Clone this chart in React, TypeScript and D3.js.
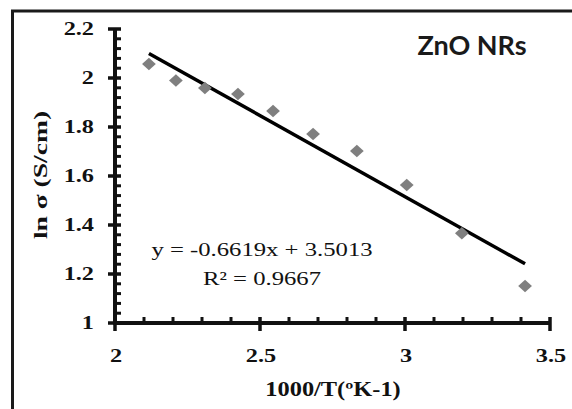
import React, { useEffect, useRef } from 'react';
import * as d3 from 'd3';

// 1000/T values and measured ln(sigma)
const invTemp: number[] = [2.117, 2.21, 2.31, 2.424, 2.545, 2.683, 2.834, 3.006, 3.196, 3.414];
const lnSigma: number[] = [2.057, 1.99, 1.959, 1.935, 1.865, 1.771, 1.702, 1.563, 1.366, 1.151];

// linear trendline from the chart
const fitSlope = -0.6619;
const fitIntercept = 3.5013;
const fitLabels: string[] = ['y = -0.6619x + 3.5013', 'R² = 0.9667'];

const xTicks: number[] = [2, 2.5, 3, 3.5];
const yTicks: number[] = [1, 1.2, 1.4, 1.6, 1.8, 2, 2.2];
const seriesName = 'ZnO NRs';
const xTitle = '1000/T(ºK-1)';
const yTitle = 'ln σ (S/cm)';

const W = 572;
const H = 409;
const serif = '"Liberation Serif", "Times New Roman", serif';

const App = () => {
  const svgRef = useRef<SVGSVGElement | null>(null);

  useEffect(() => {
    const svg = d3.select(svgRef.current);
    svg.selectAll('*').remove();

    const margin = { top: 29, right: 22, bottom: 86, left: 115 };
    const x = d3.scaleLinear().domain([2, 3.5]).range([margin.left, W - margin.right]);
    const y = d3.scaleLinear().domain([1, 2.2]).range([H - margin.bottom, margin.top]);
    const x0 = x(2);
    const y0 = y(1);

    svg.append('rect').attr('width', W).attr('height', H).attr('fill', '#fff');

    // outer frame (top + left only visible)
    svg.append('path')
      .attr('d', `M12.5,${H + 5}V11H${W + 5}`)
      .attr('fill', 'none')
      .attr('stroke', '#1a1a1a')
      .attr('stroke-width', 3);

    const ink = '#111';

    // minor ticks
    const xMinor = d3.range(2, 3.5001, 0.1).filter(v => !xTicks.some(t => Math.abs(t - v) < 1e-6));
    svg.append('g').selectAll('line').data(xMinor).enter().append('line')
      .attr('x1', d => x(d)).attr('x2', d => x(d))
      .attr('y1', y0).attr('y2', y0 - 6)
      .attr('stroke', ink).attr('stroke-width', 3);
    const yMinor = d3.range(1, 2.2001, 0.04).filter(v => !yTicks.some(t => Math.abs(t - v) < 1e-6));
    svg.append('g').selectAll('line').data(yMinor).enter().append('line')
      .attr('x1', x0).attr('x2', x0 + 6)
      .attr('y1', d => y(d)).attr('y2', d => y(d))
      .attr('stroke', ink).attr('stroke-width', 3);

    // major ticks
    svg.append('g').selectAll('line').data(xTicks).enter().append('line')
      .attr('x1', d => x(d)).attr('x2', d => x(d))
      .attr('y1', y0 - 6).attr('y2', y0 + 8)
      .attr('stroke', ink).attr('stroke-width', 3.5);
    svg.append('g').selectAll('line').data(yTicks).enter().append('line')
      .attr('x1', x0 - 7).attr('x2', x0 + 6)
      .attr('y1', d => y(d)).attr('y2', d => y(d))
      .attr('stroke', ink).attr('stroke-width', 3.5);

    // axis lines
    svg.append('path')
      .attr('d', `M${x0},${y(2.2)}V${y0}H${x(3.5)}`)
      .attr('fill', 'none')
      .attr('stroke', ink)
      .attr('stroke-width', 4);

    // tick labels
    const fmt = (v: number) => d3.format('')(+v.toFixed(1));
    svg.append('g').selectAll('g').data(yTicks).enter().append('g')
      .attr('transform', d => `translate(94,${y(d) + 6}) scale(1.35,1)`)
      .append('text')
      .attr('text-anchor', 'end')
      .style('font-family', serif).style('font-weight', 'bold').style('font-size', '18px')
      .attr('fill', ink)
      .text(d => fmt(d));
    svg.append('g').selectAll('g').data(xTicks).enter().append('g')
      .attr('transform', d => `translate(${x(d) + 1},362) scale(1.35,1)`)
      .append('text')
      .attr('text-anchor', 'middle')
      .style('font-family', serif).style('font-weight', 'bold').style('font-size', '18px')
      .attr('fill', ink)
      .text(d => fmt(d));

    // axis titles
    svg.append('g')
      .attr('transform', `translate(333,396) scale(1.22,1)`)
      .append('text')
      .attr('text-anchor', 'middle')
      .style('font-family', serif).style('font-weight', 'bold').style('font-size', '20px')
      .attr('fill', ink)
      .text(xTitle);
    svg.append('g')
      .attr('transform', `translate(47,175) rotate(-90) scale(1.45,1)`)
      .append('text')
      .attr('text-anchor', 'middle')
      .style('font-family', serif).style('font-weight', 'bold').style('font-size', '19px')
      .attr('fill', ink)
      .text(yTitle);

    // trendline
    const xr = d3.extent(invTemp) as [number, number];
    const fitLine = d3.line<number>()
      .x(d => x(d))
      .y(d => y(fitSlope * d + fitIntercept));
    svg.append('path')
      .datum(xr)
      .attr('d', fitLine)
      .attr('fill', 'none')
      .attr('stroke', '#000')
      .attr('stroke-width', 3.5);

    // data markers
    const diamond = d3.symbol().type(d3.symbolSquare).size(78);
    svg.append('g').selectAll('path').data(invTemp).enter().append('path')
      .attr('d', diamond)
      .attr('transform', (d, i) => `translate(${x(d)},${y(lnSigma[i])}) scale(1.1,1) rotate(45)`)
      .attr('fill', '#7f7f7f');

    // equation
    svg.append('g').selectAll('g').data(fitLabels).enter().append('g')
      .attr('transform', (d, i) => `translate(262,${256 + i * 29}) scale(1.3,1)`)
      .append('text')
      .attr('text-anchor', 'middle')
      .style('font-family', serif).style('font-size', '19px')
      .attr('fill', ink)
      .text(d => d);

    // series label
    svg.append('text')
      .attr('x', 472)
      .attr('y', 55)
      .attr('text-anchor', 'middle')
      .style('font-family', 'Lato, "Open Sans", sans-serif')
      .style('font-weight', 'bold')
      .style('font-size', '27px')
      .attr('fill', '#1a1a1a')
      .text(seriesName);
  }, []);

  return (
    <svg
      ref={svgRef}
      width={W}
      height={H}
      style={{ position: 'absolute', left: 0, top: 0, display: 'block' }}
    />
  );
};

export default App;
